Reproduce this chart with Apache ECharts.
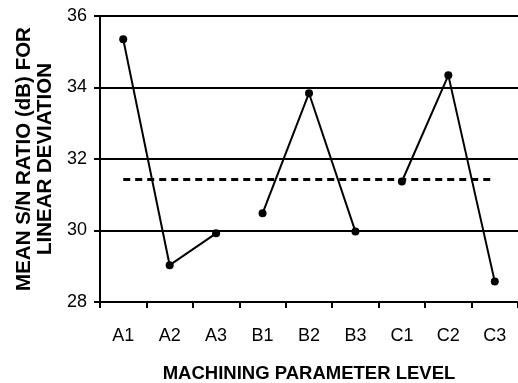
<!DOCTYPE html>
<html><head><meta charset="utf-8">
<script src="https://cdn.jsdelivr.net/npm/echarts@6/dist/echarts.min.js"></script>
<style>html,body{margin:0;padding:0;background:#fff}#c{width:518px;height:383px}</style>
</head><body><div id="c"></div>
<script>
const categories = ['A1','A2','A3','B1','B2','B3','C1','C2','C3'];
const snValues = [35.35, 29.03, 29.92, 30.48, 33.84, 29.97, 31.37, 34.34, 28.57];
const groups = ['A','B','C'];
const meanValue = 31.43;
const yTicks = {min: 28, max: 36, interval: 2};
const FONT = '"Liberation Sans", Arial, sans-serif';

const series = groups.map(g => ({
  type: 'line',
  data: categories.map((c, i) => c[0] === g ? [c, snValues[i]] : null).filter(d => d),
  symbol: 'circle', symbolSize: 8,
  itemStyle: {color: '#000'},
  lineStyle: {color: '#000', width: 2},
  animation: false
}));
series[0].markLine = {
  silent: true, symbol: 'none', animation: false,
  lineStyle: {color: '#000', width: 3, type: [7, 5]},
  label: {show: false},
  data: [[{coord: [categories[0], meanValue]}, {coord: [categories[categories.length-1], meanValue]}]]
};

const chart = echarts.init(document.getElementById('c'));
chart.setOption({
  backgroundColor: '#fff',
  grid: {left: 100, right: 0, top: 16, bottom: 81, containLabel: false, outerBoundsMode: 'none'},
  xAxis: {
    type: 'category', data: categories,
    name: 'MACHINING PARAMETER LEVEL', nameLocation: 'middle', nameGap: 62,
    nameTextStyle: {fontFamily: FONT, fontWeight: 'bold', fontSize: 18.5, color: '#000'},
    axisLine: {lineStyle: {color: '#000', width: 2}},
    axisTick: {show: true, length: 6, lineStyle: {color: '#000', width: 2}},
    axisLabel: {fontFamily: FONT, fontSize: 18, color: '#000', margin: 25}
  },
  yAxis: {
    type: 'value', min: yTicks.min, max: yTicks.max, interval: yTicks.interval,
    name: 'MEAN S/N RATIO (dB) FOR\nLINEAR DEVIATION', nameLocation: 'middle', nameGap: 44, nameRotate: 90,
    nameTextStyle: {fontFamily: FONT, fontWeight: 'bold', fontSize: 20.5, color: '#000', lineHeight: 21},
    axisLine: {show: true, lineStyle: {color: '#000', width: 2}},
    axisTick: {show: true, length: 6, lineStyle: {color: '#000', width: 2}},
    axisLabel: {fontFamily: FONT, fontSize: 18, color: '#000', margin: 13},
    splitLine: {show: true, lineStyle: {color: '#000', width: 2}}
  },
  series: series
});
</script></body></html>
